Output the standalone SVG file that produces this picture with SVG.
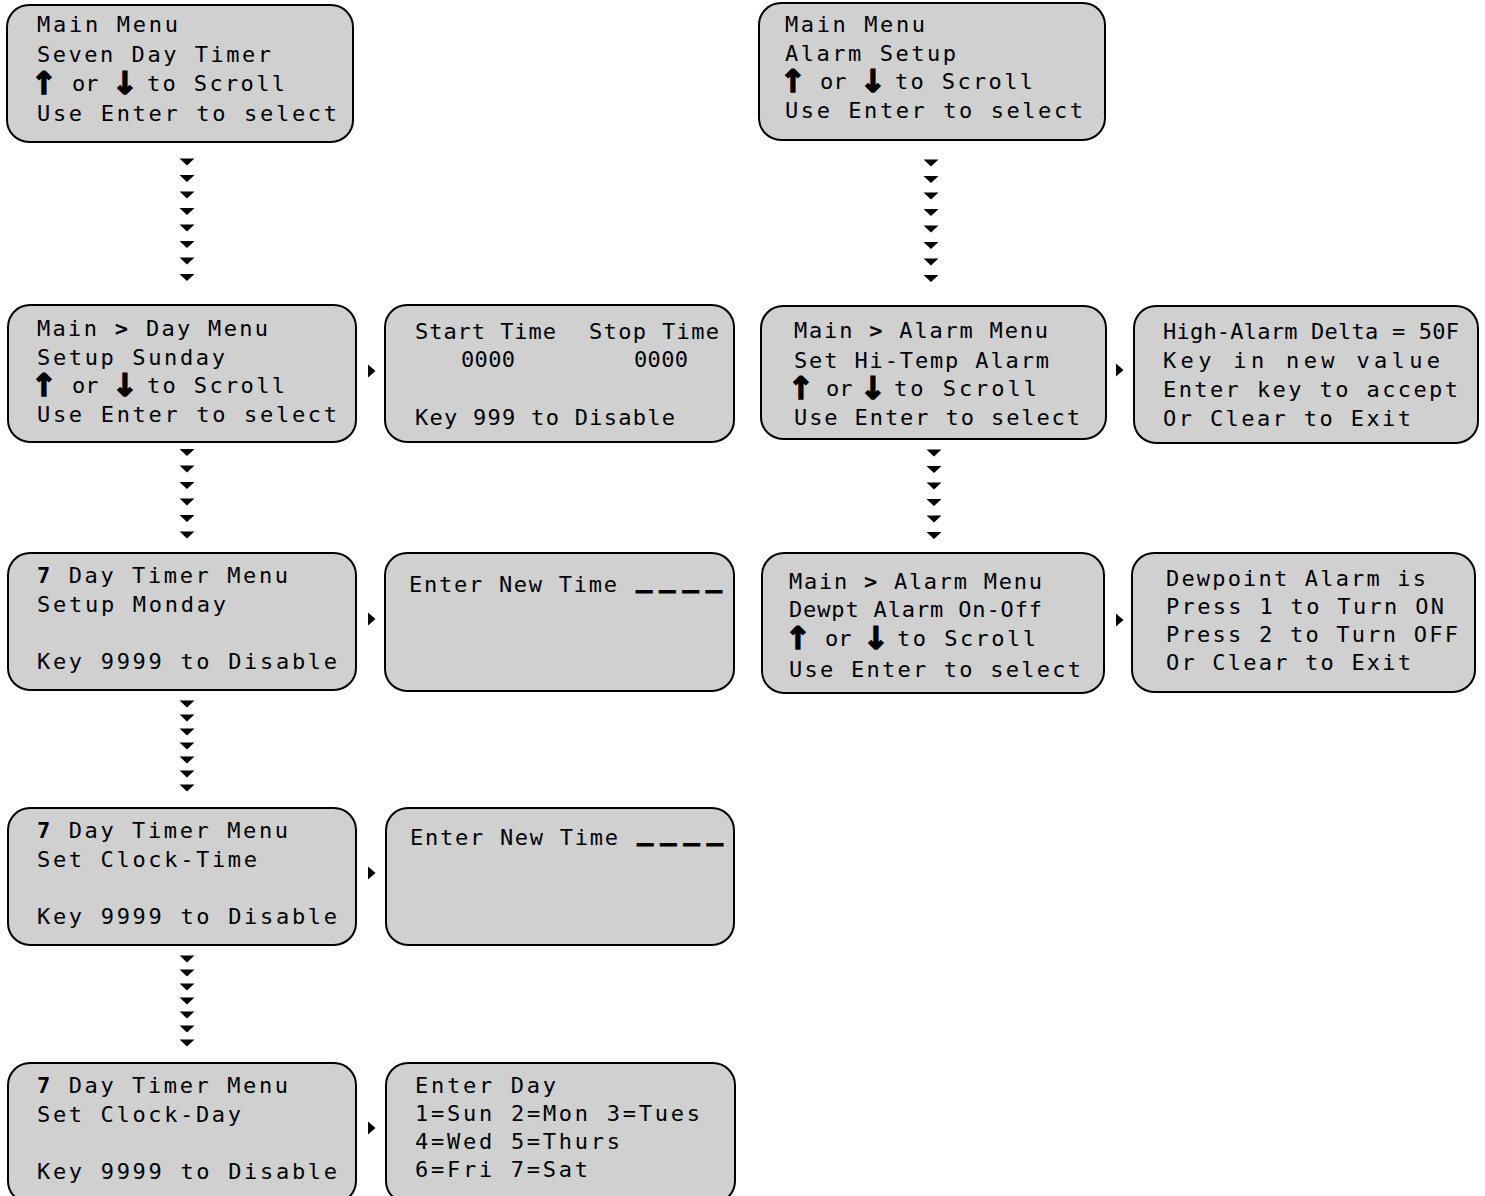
<svg xmlns="http://www.w3.org/2000/svg" xmlns:xlink="http://www.w3.org/1999/xlink" width="1485" height="1196" viewBox="0 0 1485 1196">
<style>
.box{fill:#d0d0d0;stroke:#000;stroke-width:2}
.t{font-family:"DejaVu Sans Mono","Liberation Mono",monospace;font-size:22px;fill:#000}
.b{font-weight:bold}
.ar{font-family:"DejaVu Sans","Liberation Sans",sans-serif;font-weight:bold;font-size:31px;text-anchor:middle;stroke:#000;stroke-width:1.6}
.dash{font-family:"DejaVu Sans Mono",monospace;font-weight:bold;font-size:27px;letter-spacing:7px;stroke:#000;stroke-width:1}
.tri{fill:#000}
</style>
<defs>
<polygon id="dn" points="-7.5,0 7.5,0 0,7"/>
<polygon id="rt" points="0,-6.5 7.5,0 0,6.5"/>
</defs>
<rect width="1485" height="1196" fill="#fff"/>

<g id="connectors" class="tri">
<use xlink:href="#dn" x="187" y="158.5"/><use xlink:href="#dn" x="187" y="175"/><use xlink:href="#dn" x="187" y="191.5"/><use xlink:href="#dn" x="187" y="208"/><use xlink:href="#dn" x="187" y="224.5"/><use xlink:href="#dn" x="187" y="241"/><use xlink:href="#dn" x="187" y="257.5"/><use xlink:href="#dn" x="187" y="274"/>
<use xlink:href="#dn" x="187" y="432.5"/><use xlink:href="#dn" x="187" y="449"/><use xlink:href="#dn" x="187" y="465.5"/><use xlink:href="#dn" x="187" y="482"/><use xlink:href="#dn" x="187" y="498.5"/><use xlink:href="#dn" x="187" y="515"/><use xlink:href="#dn" x="187" y="531.5"/>
<use xlink:href="#dn" x="187" y="700.5"/><use xlink:href="#dn" x="187" y="714.5"/><use xlink:href="#dn" x="187" y="728.5"/><use xlink:href="#dn" x="187" y="742.5"/><use xlink:href="#dn" x="187" y="756.5"/><use xlink:href="#dn" x="187" y="770.5"/><use xlink:href="#dn" x="187" y="784.5"/>
<use xlink:href="#dn" x="187" y="955.5"/><use xlink:href="#dn" x="187" y="969.5"/><use xlink:href="#dn" x="187" y="983.5"/><use xlink:href="#dn" x="187" y="997.5"/><use xlink:href="#dn" x="187" y="1011.5"/><use xlink:href="#dn" x="187" y="1025.5"/><use xlink:href="#dn" x="187" y="1039.5"/>
<use xlink:href="#dn" x="931" y="159.5"/><use xlink:href="#dn" x="931" y="176"/><use xlink:href="#dn" x="931" y="192.5"/><use xlink:href="#dn" x="931" y="209"/><use xlink:href="#dn" x="931" y="225.5"/><use xlink:href="#dn" x="931" y="242"/><use xlink:href="#dn" x="931" y="258.5"/><use xlink:href="#dn" x="931" y="275"/>
<use xlink:href="#dn" x="934" y="449.5"/><use xlink:href="#dn" x="934" y="466"/><use xlink:href="#dn" x="934" y="482.5"/><use xlink:href="#dn" x="934" y="499"/><use xlink:href="#dn" x="934" y="515.5"/><use xlink:href="#dn" x="934" y="532"/>
<use xlink:href="#rt" x="368" y="371"/><use xlink:href="#rt" x="368" y="619"/><use xlink:href="#rt" x="368" y="873"/><use xlink:href="#rt" x="368" y="1128"/>
<use xlink:href="#rt" x="1116" y="370"/><use xlink:href="#rt" x="1116" y="620"/>
</g>

<g id="n1">
<rect class="box" x="7" y="5" width="346" height="137" rx="22"/>
<text class="t" x="37" y="32" textLength="141" lengthAdjust="spacing">Main Menu</text>
<text class="t" x="37" y="62" textLength="234" lengthAdjust="spacing">Seven Day Timer</text>
<text class="t"><tspan class="ar" x="44" y="94">↑</tspan><tspan x="72" y="91">or</tspan><tspan class="ar" x="125" y="94">↓</tspan><tspan x="147" y="91" textLength="138" lengthAdjust="spacing">to Scroll</tspan></text>
<text class="t" x="37" y="121" textLength="300" lengthAdjust="spacing">Use Enter to select</text>
</g>

<g id="n2">
<rect class="box" x="8" y="305" width="348" height="137" rx="22"/>
<text class="t" x="37" y="336" textLength="231" lengthAdjust="spacing">Main <tspan class="b">&gt;</tspan> Day Menu</text>
<text class="t" x="37" y="365" textLength="188" lengthAdjust="spacing">Setup Sunday</text>
<text class="t"><tspan class="ar" x="44" y="396">↑</tspan><tspan x="72" y="393">or</tspan><tspan class="ar" x="125" y="396">↓</tspan><tspan x="147" y="393" textLength="138" lengthAdjust="spacing">to Scroll</tspan></text>
<text class="t" x="37" y="422" textLength="300" lengthAdjust="spacing">Use Enter to select</text>
</g>

<g id="d2">
<rect class="box" x="385" y="305" width="349" height="137" rx="22"/>
<text class="t" y="339"><tspan x="415" textLength="141" lengthAdjust="spacing">Start Time</tspan><tspan x="589" textLength="130" lengthAdjust="spacing">Stop Time</tspan></text>
<text class="t" y="367"><tspan x="461" textLength="54" lengthAdjust="spacing">0000</tspan><tspan x="634" textLength="54" lengthAdjust="spacing">0000</tspan></text>
<text class="t" x="415" y="425" textLength="260" lengthAdjust="spacing">Key 999 to Disable</text>
</g>

<g id="n3">
<rect class="box" x="8" y="553" width="348" height="137" rx="22"/>
<text class="t" x="37" y="583" textLength="251" lengthAdjust="spacing"><tspan class="b">7</tspan> Day Timer Menu</text>
<text class="t" x="37" y="612" textLength="189" lengthAdjust="spacing">Setup Monday</text>
<text class="t" x="37" y="669" textLength="300" lengthAdjust="spacing">Key 9999 to Disable</text>
</g>

<g id="d3">
<rect class="box" x="385" y="553" width="349" height="138" rx="22"/>
<text class="t"><tspan x="409" y="592" textLength="208" lengthAdjust="spacing">Enter New Time</tspan><tspan class="dash" x="636" y="587">____</tspan></text>
</g>

<g id="n4">
<rect class="box" x="8" y="808" width="348" height="137" rx="22"/>
<text class="t" x="37" y="838" textLength="251" lengthAdjust="spacing"><tspan class="b">7</tspan> Day Timer Menu</text>
<text class="t" x="37" y="867" textLength="220" lengthAdjust="spacing">Set Clock-Time</text>
<text class="t" x="37" y="924" textLength="300" lengthAdjust="spacing">Key 9999 to Disable</text>
</g>

<g id="d4">
<rect class="box" x="386" y="808" width="348" height="137" rx="22"/>
<text class="t"><tspan x="410" y="845" textLength="208" lengthAdjust="spacing">Enter New Time</tspan><tspan class="dash" x="637" y="840">____</tspan></text>
</g>

<g id="n5">
<rect class="box" x="8" y="1063" width="348" height="140" rx="22"/>
<text class="t" x="37" y="1093" textLength="251" lengthAdjust="spacing"><tspan class="b">7</tspan> Day Timer Menu</text>
<text class="t" x="37" y="1122" textLength="204" lengthAdjust="spacing">Set Clock-Day</text>
<text class="t" x="37" y="1179" textLength="300" lengthAdjust="spacing">Key 9999 to Disable</text>
</g>

<g id="d5">
<rect class="box" x="386" y="1063" width="349" height="140" rx="22"/>
<text class="t" x="415" y="1093" textLength="141" lengthAdjust="spacing">Enter Day</text>
<text class="t" x="415" y="1121" textLength="285" lengthAdjust="spacing">1=Sun 2=Mon 3=Tues</text>
<text class="t" x="415" y="1149" textLength="205" lengthAdjust="spacing">4=Wed 5=Thurs</text>
<text class="t" x="415" y="1177" textLength="173" lengthAdjust="spacing">6=Fri 7=Sat</text>
</g>

<g id="r1">
<rect class="box" x="759" y="3" width="346" height="137" rx="22"/>
<text class="t" x="785" y="32" textLength="140" lengthAdjust="spacing">Main Menu</text>
<text class="t" x="785" y="61" textLength="171" lengthAdjust="spacing">Alarm Setup</text>
<text class="t"><tspan class="ar" x="793" y="92">↑</tspan><tspan x="820" y="89">or</tspan><tspan class="ar" x="873" y="92">↓</tspan><tspan x="895" y="89" textLength="138" lengthAdjust="spacing">to Scroll</tspan></text>
<text class="t" x="785" y="118" textLength="298" lengthAdjust="spacing">Use Enter to select</text>
</g>

<g id="r2">
<rect class="box" x="761" y="306" width="345" height="133" rx="22"/>
<text class="t" x="794" y="338" textLength="254" lengthAdjust="spacing">Main <tspan class="b">&gt;</tspan> Alarm Menu</text>
<text class="t" x="794" y="368" textLength="255" lengthAdjust="spacing">Set Hi-Temp Alarm</text>
<text class="t"><tspan class="ar" x="801" y="399">↑</tspan><tspan x="826" y="396">or</tspan><tspan class="ar" x="873" y="399">↓</tspan><tspan x="894" y="396" textLength="143" lengthAdjust="spacing">to Scroll</tspan></text>
<text class="t" x="794" y="425" textLength="286" lengthAdjust="spacing">Use Enter to select</text>
</g>

<g id="r2d">
<rect class="box" x="1134" y="306" width="344" height="137" rx="22"/>
<text class="t" x="1163" y="339" textLength="296" lengthAdjust="spacing">High-Alarm Delta = 50F</text>
<text class="t" x="1163" y="368" textLength="277" lengthAdjust="spacing">Key in new value</text>
<text class="t" x="1163" y="397" textLength="295" lengthAdjust="spacing">Enter key to accept</text>
<text class="t" x="1163" y="426" textLength="248" lengthAdjust="spacing">Or Clear to Exit</text>
</g>

<g id="r3">
<rect class="box" x="762" y="553" width="342" height="140" rx="22"/>
<text class="t" x="789" y="589" textLength="253" lengthAdjust="spacing">Main <tspan class="b">&gt;</tspan> Alarm Menu</text>
<text class="t" x="789" y="617" textLength="253" lengthAdjust="spacing">Dewpt Alarm On-Off</text>
<text class="t"><tspan class="ar" x="798" y="649">↑</tspan><tspan x="825" y="646">or</tspan><tspan class="ar" x="876" y="649">↓</tspan><tspan x="897" y="646" textLength="139" lengthAdjust="spacing">to Scroll</tspan></text>
<text class="t" x="789" y="677" textLength="292" lengthAdjust="spacing">Use Enter to select</text>
</g>

<g id="r3d">
<rect class="box" x="1132" y="553" width="343" height="139" rx="22"/>
<text class="t" x="1166" y="586" textLength="260" lengthAdjust="spacing">Dewpoint Alarm is</text>
<text class="t" x="1166" y="614" textLength="278" lengthAdjust="spacing">Press 1 to Turn ON</text>
<text class="t" x="1166" y="642" textLength="292" lengthAdjust="spacing">Press 2 to Turn OFF</text>
<text class="t" x="1166" y="670" textLength="245" lengthAdjust="spacing">Or Clear to Exit</text>
</g>
</svg>
